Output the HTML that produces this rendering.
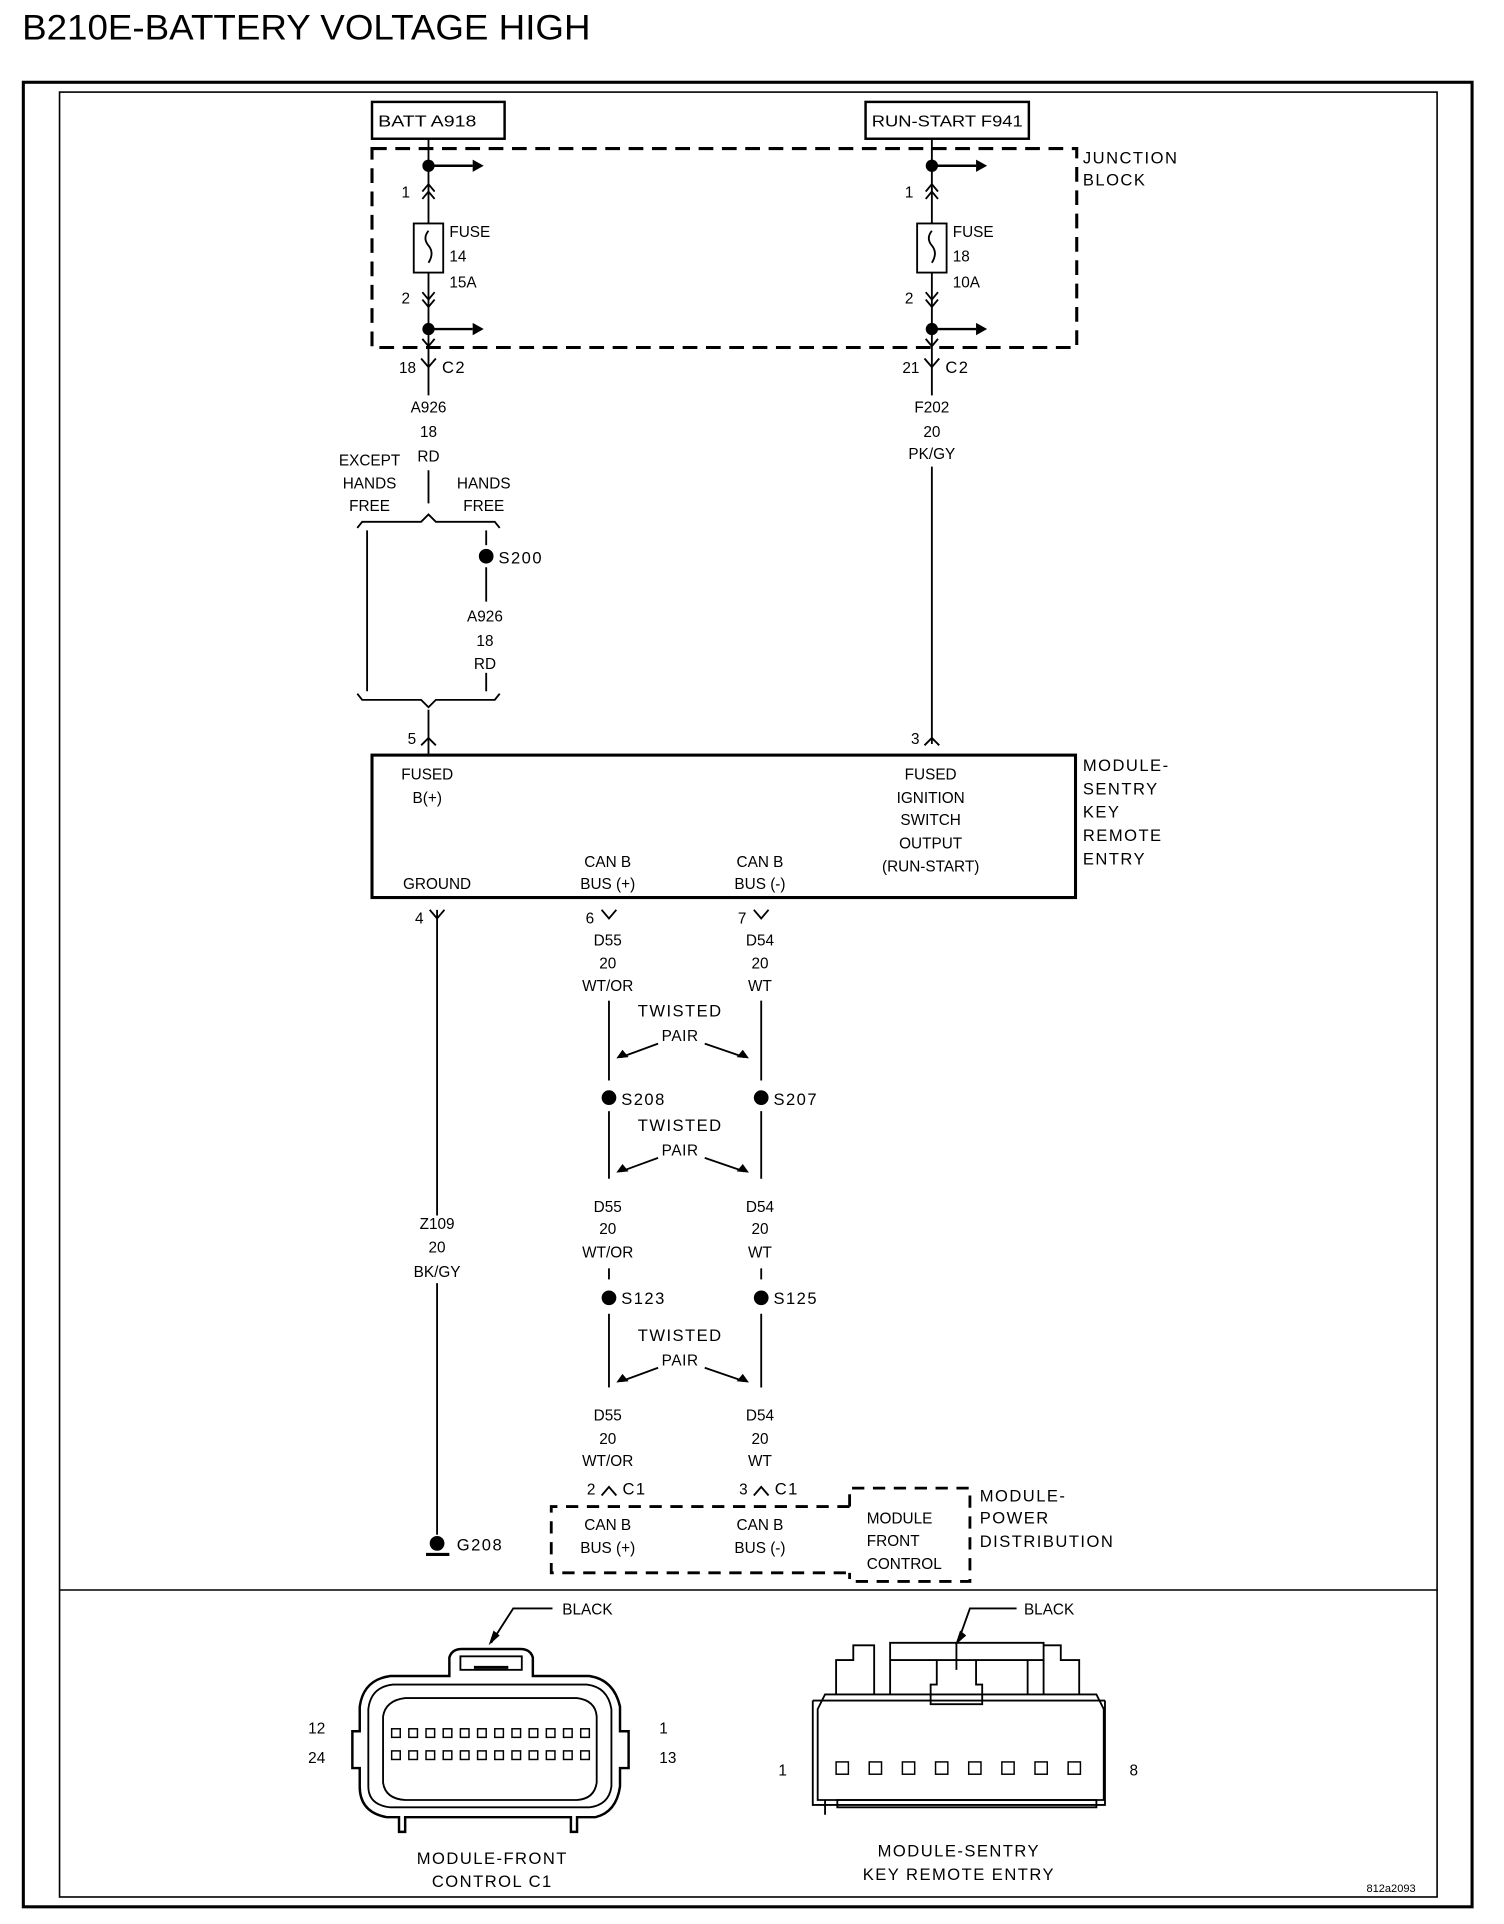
<!DOCTYPE html>
<html><head><meta charset="utf-8"><style>
html,body{margin:0;padding:0;background:#fff}
svg{display:block}
text{font-family:"Liberation Sans Narrow","Liberation Sans",sans-serif;font-size:12.5px;fill:#000}
.c{text-anchor:middle}
.l{font-size:13.5px;letter-spacing:1.2px}
</style></head><body>
<svg width="1504" height="1924" viewBox="0 0 1225 1567" preserveAspectRatio="none" xmlns="http://www.w3.org/2000/svg">
<text x="18" y="32" style="font-family:'Liberation Sans',sans-serif;font-size:29px" textLength="463" lengthAdjust="spacingAndGlyphs">B210E-BATTERY VOLTAGE HIGH</text>
<rect x="19" y="67" width="1180" height="1486" fill="none" stroke="#000" stroke-width="2.5"/>
<rect x="48.5" y="75" width="1122" height="1470" fill="none" stroke="#000" stroke-width="1.3"/>
<line x1="48" y1="1295" x2="1171" y2="1295" stroke="#000" stroke-width="1.2"/>

<g stroke="#000" fill="none" stroke-width="1.5">
<rect x="303" y="83" width="108" height="30" stroke-width="2"/>
<rect x="705" y="83" width="133" height="30" stroke-width="2"/>
<rect x="303" y="121" width="574" height="162" stroke-width="2.5" stroke-dasharray="12,7"/>
<line x1="349" y1="113" x2="349" y2="182"/><line x1="349" y1="222" x2="349" y2="322"/><line x1="349" y1="383" x2="349" y2="410"/>
<line x1="759" y1="113" x2="759" y2="182"/><line x1="759" y1="222" x2="759" y2="322"/><line x1="759" y1="380" x2="759" y2="606"/>
<rect x="337" y="182" width="24" height="40"/><rect x="747" y="182" width="24" height="40"/>
<path d="M349 188 q-5 6 0 12 q5 6 0 14"/><path d="M759 188 q-5 6 0 12 q5 6 0 14"/>
<path d="M344 156 l5-6 5 6 M344 162 l5-6 5 6 M754 156 l5-6 5 6 M754 162 l5-6 5 6"/>
<path d="M344 238 l5 6 5-6 M344 244 l5 6 5-6 M754 238 l5 6 5-6 M754 244 l5 6 5-6"/>
<path d="M344 276 l5 6 5-6 M754 276 l5 6 5-6"/>
<path d="M343 292 l6 7 6-7 M753 292 l6 7 6-7" />
<line x1="349" y1="135" x2="385" y2="135" stroke-width="2"/><line x1="349" y1="268" x2="385" y2="268" stroke-width="2"/>
<line x1="759" y1="135" x2="795" y2="135" stroke-width="2"/><line x1="759" y1="268" x2="795" y2="268" stroke-width="2"/>
<path d="M291 430 l4-5 h48 l6-6 6 6 h48 l4 5"/>
<path d="M291 565 l4 5 h48 l6 6 6-6 h48 l4-5"/>
<line x1="299" y1="432" x2="299" y2="563"/>
<line x1="396" y1="432" x2="396" y2="444"/><line x1="396" y1="462" x2="396" y2="490"/><line x1="396" y1="548" x2="396" y2="563"/>
<line x1="349" y1="578" x2="349" y2="615"/>
<path d="M343 607 l6-6 6 6 M753 607 l6-6 6 6"/>
<rect x="303" y="615" width="573" height="116" stroke-width="2.5"/>
<path d="M350 741 l6 7 6-7 M490 741 l6 7 6-7 M614 741 l6 7 6-7"/>
<line x1="356" y1="741" x2="356" y2="990"/><line x1="356" y1="1045" x2="356" y2="1250"/>
<line x1="496" y1="815" x2="496" y2="880"/><line x1="620" y1="815" x2="620" y2="880"/>
<line x1="496" y1="905" x2="496" y2="960"/><line x1="620" y1="905" x2="620" y2="960"/>
<line x1="496" y1="1033" x2="496" y2="1042"/><line x1="620" y1="1033" x2="620" y2="1042"/>
<line x1="496" y1="1070" x2="496" y2="1130"/><line x1="620" y1="1070" x2="620" y2="1130"/>
<path d="M490 1218 l6-7 6 7 M614 1218 l6-7 6 7"/>
<path d="M536 850 L506 861 M574 850 L606 861 M536 943 L506 954 M574 943 L606 954 M536 1114 L506 1125 M574 1114 L606 1125"/>
<path d="M692 1227 H449 V1281 H692" stroke-width="2.3" stroke-dasharray="10,7"/>
<path d="M692 1227 V1212 H790 V1288 H692 V1281" stroke-width="2.3" stroke-dasharray="10,7"/>
<line x1="347" y1="1266" x2="366" y2="1266" stroke-width="2.5"/>
</g>
<g fill="#000">
<circle cx="349" cy="135" r="5"/><circle cx="349" cy="268" r="5"/><circle cx="759" cy="135" r="5"/><circle cx="759" cy="268" r="5"/>
<path d="M385 130 l9 5 -9 5z M385 263 l9 5 -9 5z M795 130 l9 5 -9 5z M795 263 l9 5 -9 5z"/>
<circle cx="396" cy="453" r="6"/><circle cx="496" cy="894" r="6"/><circle cx="620" cy="894" r="6"/><circle cx="496" cy="1057" r="6"/><circle cx="620" cy="1057" r="6"/>
<path d="M502 862 l10-1 -5-6z M610 862 l-10-1 5-6z M502 955 l10-1 -5-6z M610 955 l-10-1 5-6z M502 1126 l10-1 -5-6z M610 1126 l-10-1 5-6z"/>
<circle cx="356" cy="1257" r="6"/>
</g>

<text x="308" y="103" textLength="80" lengthAdjust="spacingAndGlyphs">BATT A918</text>
<text x="710" y="103" textLength="123" lengthAdjust="spacingAndGlyphs">RUN-START F941</text>
<text x="882" y="133" class="l">JUNCTION</text><text x="882" y="151" class="l">BLOCK</text>
<text x="327" y="161">1</text><text x="327" y="247">2</text><text x="737" y="161">1</text><text x="737" y="247">2</text>
<text x="366" y="193">FUSE</text><text x="366" y="213">14</text><text x="366" y="234">15A</text>
<text x="776" y="193">FUSE</text><text x="776" y="213">18</text><text x="776" y="234">10A</text>
<text x="325" y="304">18</text><text x="360" y="304" class="l">C2</text>
<text x="735" y="304">21</text><text x="770" y="304" class="l">C2</text>
<text x="349" y="336" class="c">A926</text><text x="349" y="356" class="c">18</text><text x="349" y="376" class="c">RD</text>
<text x="759" y="336" class="c">F202</text><text x="759" y="356" class="c">20</text><text x="759" y="374" class="c">PK/GY</text>
<text x="301" y="379" class="c">EXCEPT</text><text x="301" y="398" class="c">HANDS</text><text x="301" y="416" class="c">FREE</text>
<text x="394" y="398" class="c">HANDS</text><text x="394" y="416" class="c">FREE</text>
<text x="406" y="459" class="l">S200</text>
<text x="395" y="506" class="c">A926</text><text x="395" y="526" class="c">18</text><text x="395" y="545" class="c">RD</text>
<text x="332" y="606">5</text><text x="742" y="606">3</text>
<text x="348" y="635" class="c">FUSED</text><text x="348" y="654" class="c">B(+)</text>
<text x="758" y="635" class="c">FUSED</text><text x="758" y="654" class="c">IGNITION</text><text x="758" y="672" class="c">SWITCH</text><text x="758" y="691" class="c">OUTPUT</text><text x="758" y="710" class="c">(RUN-START)</text>
<text x="356" y="724" class="c">GROUND</text>
<text x="495" y="706" class="c">CAN B</text><text x="495" y="724" class="c">BUS (+)</text>
<text x="619" y="706" class="c">CAN B</text><text x="619" y="724" class="c">BUS (-)</text>
<text x="882" y="628" class="l">MODULE-</text><text x="882" y="647" class="l">SENTRY</text><text x="882" y="666" class="l">KEY</text><text x="882" y="685" class="l">REMOTE</text><text x="882" y="704" class="l">ENTRY</text>
<text x="338" y="752">4</text><text x="477" y="752">6</text><text x="601" y="752">7</text>
<text x="495" y="770" class="c">D55</text><text x="495" y="789" class="c">20</text><text x="495" y="807" class="c">WT/OR</text>
<text x="619" y="770" class="c">D54</text><text x="619" y="789" class="c">20</text><text x="619" y="807" class="c">WT</text>
<text x="554" y="828" class="c l">TWISTED</text><text x="554" y="848" class="c l" style="font-size:12.5px;letter-spacing:0.5px">PAIR</text>
<text x="506" y="900" class="l">S208</text><text x="630" y="900" class="l">S207</text>
<text x="554" y="921" class="c l">TWISTED</text><text x="554" y="941" class="c l" style="font-size:12.5px;letter-spacing:0.5px">PAIR</text>
<text x="495" y="987" class="c">D55</text><text x="495" y="1005" class="c">20</text><text x="495" y="1024" class="c">WT/OR</text>
<text x="619" y="987" class="c">D54</text><text x="619" y="1005" class="c">20</text><text x="619" y="1024" class="c">WT</text>
<text x="506" y="1062" class="l">S123</text><text x="630" y="1062" class="l">S125</text>
<text x="554" y="1092" class="c l">TWISTED</text><text x="554" y="1112" class="c l" style="font-size:12.5px;letter-spacing:0.5px">PAIR</text>
<text x="495" y="1157" class="c">D55</text><text x="495" y="1176" class="c">20</text><text x="495" y="1194" class="c">WT/OR</text>
<text x="619" y="1157" class="c">D54</text><text x="619" y="1176" class="c">20</text><text x="619" y="1194" class="c">WT</text>
<text x="356" y="1001" class="c">Z109</text><text x="356" y="1020" class="c">20</text><text x="356" y="1040" class="c">BK/GY</text>
<text x="478" y="1217">2</text><text x="507" y="1217" class="l">C1</text>
<text x="602" y="1217">3</text><text x="631" y="1217" class="l">C1</text>
<text x="372" y="1263" class="l">G208</text>
<text x="495" y="1246" class="c">CAN B</text><text x="495" y="1265" class="c">BUS (+)</text>
<text x="619" y="1246" class="c">CAN B</text><text x="619" y="1265" class="c">BUS (-)</text>
<text x="706" y="1241">MODULE</text><text x="706" y="1259">FRONT</text><text x="706" y="1278">CONTROL</text>
<text x="798" y="1223" class="l">MODULE-</text><text x="798" y="1241" class="l">POWER</text><text x="798" y="1260" class="l">DISTRIBUTION</text>

<g stroke="#000" fill="none" stroke-width="1.5">
<path d="M366 1365 V1350 Q368 1343 376 1343 H424 Q432 1343 434 1350 V1365 H480 Q500 1368 505 1390 V1410 H512 V1440 H505 V1455 Q502 1476 485 1480 H470 V1492 H465 V1480 H330 V1492 H325 V1480 H315 Q293 1476 293 1455 V1440 H287 V1410 H293 V1390 Q296 1368 318 1365 Z" stroke-width="2"/>
<path d="M320 1372 H478 Q495 1374 498 1392 V1455 Q496 1470 480 1472 H318 Q300 1470 300 1455 V1392 Q302 1374 320 1372 Z"/>
<path d="M330 1383 H470 Q485 1385 486 1398 V1452 Q484 1465 470 1466 H330 Q314 1465 312 1452 V1398 Q314 1385 330 1383 Z"/>
<rect x="375" y="1349" width="50" height="11"/><line x1="386" y1="1358" x2="414" y2="1358" stroke-width="2.5"/>
<path d="M400 1338 L418 1310 H450"/>
<path d="M662 1385 H900 M662 1385 V1470 H900 V1385"/>
<path d="M666 1392 L672 1380 H893 L899 1392 V1466 H666 Z" stroke-width="1.5"/>
<path d="M681 1380 V1352 H695 V1340 H712 V1380 M725 1380 V1338 H850 V1352 H837 V1380 M850 1380 V1340 H864 V1352 H879 V1380"/>
<path d="M725 1352 H837 M763 1352 V1372 H758 V1388 H800 V1372 H795 V1352 M779 1338 V1360"/>
<path d="M672 1466 V1478 M682 1466 H893 V1472 H682 Z"/>
<path d="M780 1338 L790 1310 H828"/>
</g>
<g fill="none" stroke="#000" stroke-width="1.2">
<g id="r1">
<rect x="319" y="1408" width="7" height="7"/><rect x="333" y="1408" width="7" height="7"/><rect x="347" y="1408" width="7" height="7"/><rect x="361" y="1408" width="7" height="7"/><rect x="375" y="1408" width="7" height="7"/><rect x="389" y="1408" width="7" height="7"/><rect x="403" y="1408" width="7" height="7"/><rect x="417" y="1408" width="7" height="7"/><rect x="431" y="1408" width="7" height="7"/><rect x="445" y="1408" width="7" height="7"/><rect x="459" y="1408" width="7" height="7"/><rect x="473" y="1408" width="7" height="7"/>
</g>
<use href="#r1" y="18"/>
<rect x="681" y="1435" width="10" height="10"/><rect x="708" y="1435" width="10" height="10"/><rect x="735" y="1435" width="10" height="10"/><rect x="762" y="1435" width="10" height="10"/><rect x="789" y="1435" width="10" height="10"/><rect x="816" y="1435" width="10" height="10"/><rect x="843" y="1435" width="10" height="10"/><rect x="870" y="1435" width="10" height="10"/>
</g>
<path d="M398 1340 l4-12 5 4z M778 1340 l4-12 5 4z" fill="#000"/>
<text x="458" y="1315">BLACK</text><text x="834" y="1315">BLACK</text>
<text x="251" y="1412">12</text><text x="251" y="1436">24</text><text x="537" y="1412">1</text><text x="537" y="1436">13</text>
<text x="634" y="1446">1</text><text x="920" y="1446">8</text>
<text x="401" y="1518" class="c l">MODULE-FRONT</text><text x="401" y="1537" class="c l">CONTROL C1</text>
<text x="781" y="1512" class="c l">MODULE-SENTRY</text><text x="781" y="1531" class="c l">KEY REMOTE ENTRY</text>
<text x="1113" y="1541" style="font-size:9px">812a2093</text>
</svg>
</body></html>
